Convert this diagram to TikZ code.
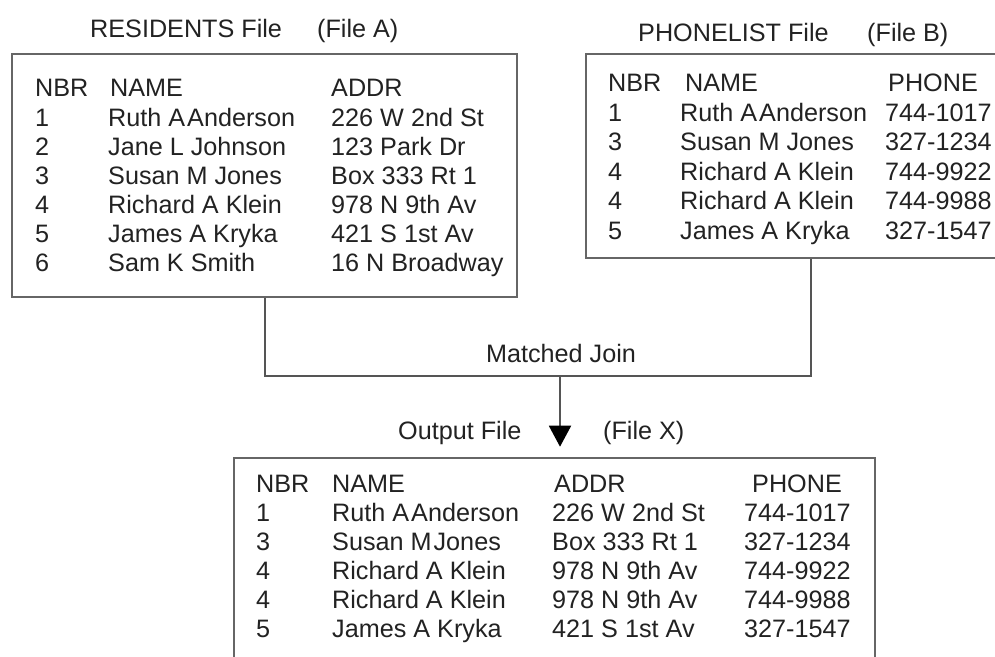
\documentclass[tikz,border=0pt]{standalone}
\usepackage{fontspec}
\setmainfont{Liberation Sans}
\usetikzlibrary{arrows.meta}
\definecolor{txt}{HTML}{222222}
\definecolor{edge}{HTML}{666666}
\definecolor{wire}{HTML}{555555}
\begin{document}
\begin{tikzpicture}[x=1pt,y=-1pt,
  lbl/.style={anchor=base west, inner sep=0pt, text=txt, font=\fontsize{25.2}{30}\selectfont},
  ctr/.style={lbl, anchor=base},
  box/.style={draw=edge, line width=2.6pt, inner sep=0pt, fill=white},
  wire/.style={draw=wire, line width=2pt}]
\path[use as bounding box] (0,0) rectangle (995,656);
\clip (0,0) rectangle (995,656);
\fill[white] (0,0) rectangle (995,656);

% boxes
\node[box, minimum width=505pt, minimum height=243pt] (boxA) at (264.5,175.5) {};
\node[box, minimum width=450pt, minimum height=204pt] (boxB) at (811,156) {};
\node[box, minimum width=641pt, minimum height=244pt] (boxX) at (554.5,580) {};

% titles
\node[lbl] (tA1) at (90,37) {RESIDENTS File};
\node[lbl] (tA2) at (317,37) {(File A)};
\node[lbl] (tB1) at (638,41) {PHONELIST File};
\node[lbl] (tB2) at (867,41) {(File B)};
\node[ctr] (mj) at (561,362) {Matched Join};
\node[lbl] (tX1) at (398,439) {Output File};
\node[lbl] (tX2) at (603,439) {(File X)};

% table A
\node[lbl] (hA1) at (35,96) {NBR};
\node[lbl] (hA2) at (110,96) {NAME};
\node[lbl] (hA3) at (331,96) {ADDR};
\foreach \n/\m/\a [count=\i] in {1/Ruth A\kern2pt Anderson/226 W 2nd St,
  2/Jane L Johnson/123 Park Dr, 3/Susan M Jones/Box 333 Rt 1,
  4/Richard A Klein/978 N 9th Av, 5/James A Kryka/421 S 1st Av,
  6/Sam K Smith/16 N Broadway}{
  \node[lbl] (rA\i n) at (35,{126+29*(\i-1)}) {\n};
  \node[lbl] (rA\i m) at (108,{126+29*(\i-1)}) {\m};
  \node[lbl] (rA\i a) at (331,{126+29*(\i-1)}) {\a};
}

% table B
\node[lbl] (hB1) at (608,91) {NBR};
\node[lbl] (hB2) at (685,91) {NAME};
\node[lbl] (hB3) at (888,91) {PHONE};
\foreach \n/\m/\p [count=\i] in {1/Ruth A\kern2pt Anderson/744-1017,
  3/Susan M Jones/327-1234, 4/Richard A Klein/744-9922,
  4/Richard A Klein/744-9988, 5/James A Kryka/327-1547}{
  \node[lbl] (rB\i n) at (608,{121+29.5*(\i-1)}) {\n};
  \node[lbl] (rB\i m) at (680,{121+29.5*(\i-1)}) {\m};
  \node[lbl] (rB\i p) at (885,{121+29.5*(\i-1)}) {\p};
}

% table X
\node[lbl] (hX1) at (256,492) {NBR};
\node[lbl] (hX2) at (332,492) {NAME};
\node[lbl] (hX3) at (554,492) {ADDR};
\node[lbl] (hX4) at (752,492) {PHONE};
\foreach \n/\m/\a/\p [count=\i] in {1/Ruth A\kern2pt Anderson/226 W 2nd St/744-1017,
  3/Susan M\kern2pt Jones/Box 333 Rt 1/327-1234, 4/Richard A Klein/978 N 9th Av/744-9922,
  4/Richard A Klein/978 N 9th Av/744-9988, 5/James A Kryka/421 S 1st Av/327-1547}{
  \node[lbl] (rX\i n) at (256,{521+29*(\i-1)}) {\n};
  \node[lbl] (rX\i m) at (332,{521+29*(\i-1)}) {\m};
  \node[lbl] (rX\i a) at (552,{521+29*(\i-1)}) {\a};
  \node[lbl] (rX\i p) at (744,{521+29*(\i-1)}) {\p};
}

% connectors
\coordinate (join) at (560,376);
\draw[wire] (boxA.south) |- (join);
\draw[wire] (boxB.south) |- (join);
\draw[wire, -{Triangle[width=22pt,length=21pt,color=black]}, shorten >=10pt] (join) -- (join |- boxX.north);
\end{tikzpicture}
\end{document}
